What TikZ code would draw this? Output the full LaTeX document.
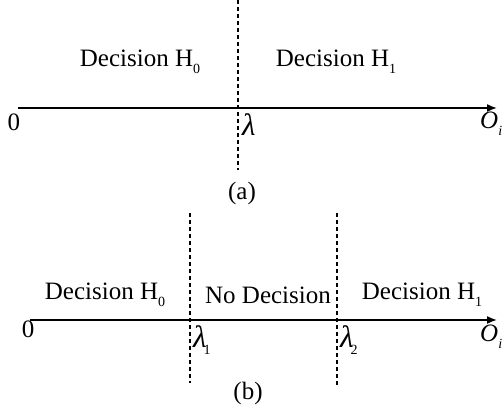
\documentclass[tikz,border=0pt]{standalone}
\usepackage{fontspec}
\setmainfont{Liberation Serif}
\usetikzlibrary{arrows.meta}
\newcommand{\mysub}[1]{\raisebox{-0.28em}{\fontsize{14}{14}\selectfont #1}}
\newcommand{\mylam}{{\fontsize{31}{31}\selectfont\itshape λ}}
\begin{document}
\begin{tikzpicture}[x=1pt,y=-1pt,
  lbl/.style={font=\fontsize{25}{30}\selectfont, inner sep=0pt},
  axis/.style={line width=1.6pt, -{Latex[length=10pt,width=8pt]}},
  thr/.style={line width=1.4pt, dash pattern=on 4pt off 3pt}]
\useasboundingbox (0,0) rectangle (504,411);
% (a)
\coordinate (a0) at (18,108);
\coordinate (a1) at (497,108);
\draw[axis] (a0) -- (a1);
\coordinate (ta) at (238,0);
\coordinate (tb) at (238,170);
\draw[thr] (ta) -- (tb);
\node[lbl] (h0a) at (140,62) {Decision H\mysub{0}};
\node[lbl] (h1a) at (336,62) {Decision H\mysub{1}};
\node[lbl] (za) at (14,122) {0};
\node[lbl, anchor=west] (la) at (242,125) {\mylam};
\node[lbl, anchor=west] (oa) at (480,124) {\itshape O\mysub{\itshape i}};
\node[lbl] (capa) at (242,193) {(a)};
% (b)
\coordinate (b0) at (30,320);
\coordinate (b1) at (497,320);
\draw[axis] (b0) -- (b1);
\coordinate (t1a) at (190,213);
\coordinate (t1b) at (190,383);
\coordinate (t2a) at (337,213);
\coordinate (t2b) at (337,385);
\draw[thr] (t1a) -- (t1b);
\draw[thr] (t2a) -- (t2b);
\node[lbl] (h0b) at (105,295) {Decision H\mysub{0}};
\node[lbl] (ndb) at (268,295) {No Decision};
\node[lbl] (h1b) at (422,295) {Decision H\mysub{1}};
\node[lbl] (zb) at (28,329) {0};
\node[lbl, anchor=west] (l1) at (193,340) {\mylam\kern-3pt\mysub{1}};
\node[lbl, anchor=west] (l2) at (340,340) {\mylam\kern-3pt\mysub{2}};
\node[lbl, anchor=west] (ob) at (480,337) {\itshape O\mysub{\itshape i}};
\node[lbl] (capb) at (248,393) {(b)};
\end{tikzpicture}
\end{document}
